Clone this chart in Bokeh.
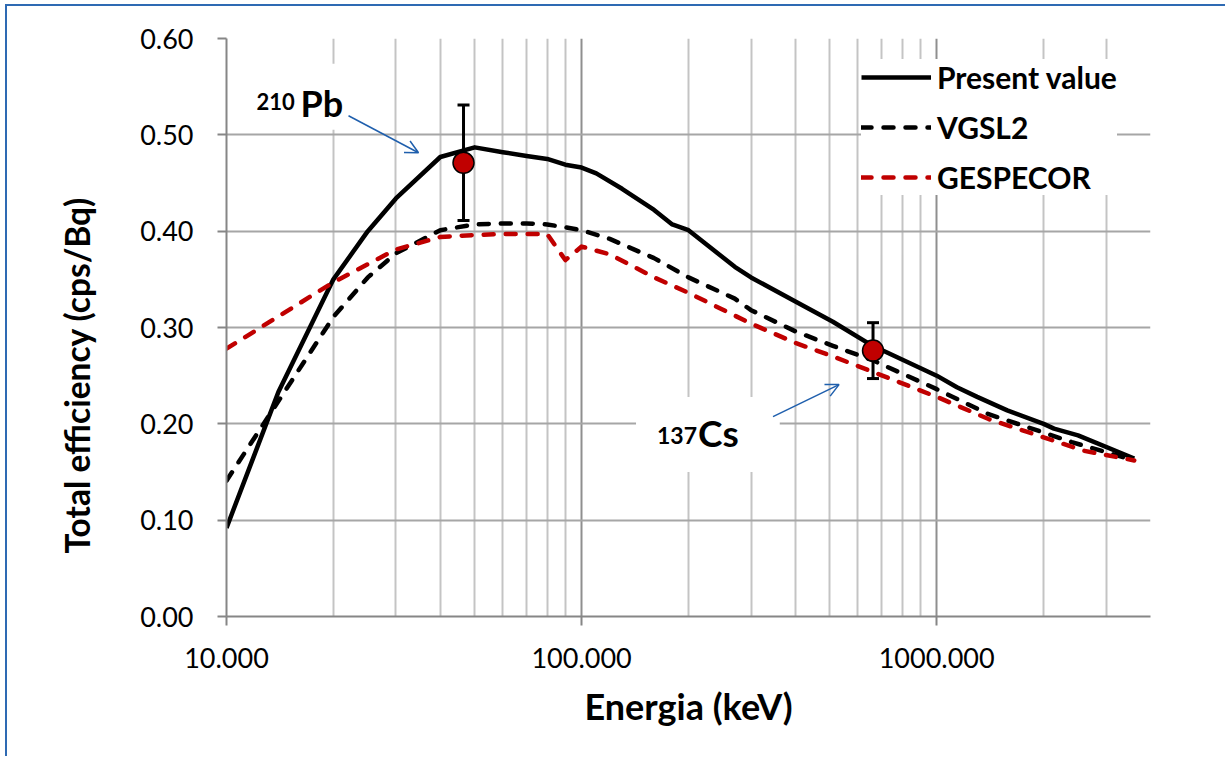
import math

from bokeh.plotting import figure
from bokeh.models import (FixedTicker, PrintfTickFormatter, Legend, Label, Arrow,
                          OpenHead, Title)
from bokeh.embed import file_html
from bokeh.resources import INLINE

# ---- data -----------------------------------------------------------------
# Present value (solid black)
pv_energy = [10, 14, 20, 25, 30, 40, 50, 60, 70, 80, 90, 100, 110, 130, 160, 180,
             200, 270, 300, 400, 510, 660, 1000, 1140, 1300, 1580, 2000, 2140,
             2500, 3600]
pv_eff = [0.092, 0.233, 0.350, 0.400, 0.434, 0.477, 0.487, 0.482, 0.478, 0.475,
          0.469, 0.466, 0.460, 0.444, 0.422, 0.407, 0.401, 0.363, 0.352, 0.327,
          0.306, 0.281, 0.250, 0.238, 0.228, 0.214, 0.200, 0.195, 0.188, 0.164]

# VGSL2 (black dashed)
vg_energy = [10, 20, 25, 30, 40, 50, 60, 70, 80, 90, 100, 120, 160, 200, 270, 300,
             400, 510, 660, 1000, 1400, 2000, 2400, 3600]
vg_eff = [0.141, 0.311, 0.352, 0.377, 0.401, 0.407, 0.408, 0.408, 0.407, 0.404,
          0.401, 0.392, 0.372, 0.352, 0.330, 0.318, 0.296, 0.281, 0.266, 0.236,
          0.210, 0.191, 0.181, 0.162]

# GESPECOR (red dashed)
ge_energy = [10, 20, 30, 40, 50, 60, 70, 80, 90, 100, 120, 160, 200, 300, 400, 510,
             660, 1000, 1400, 2000, 2600, 3600]
ge_eff = [0.278, 0.347, 0.381, 0.394, 0.396, 0.397, 0.397, 0.397, 0.370, 0.384,
          0.376, 0.352, 0.336, 0.304, 0.284, 0.270, 0.254, 0.228, 0.205, 0.186,
          0.172, 0.162]

# measured points: 210Pb and 137Cs
pt_energy = [46.5, 661.7]
pt_eff = [0.471, 0.276]
pt_err = [0.060, 0.029]

x_ticks = [10, 100, 1000]
x_minor = [m * d for d in (10, 100, 1000) for m in range(2, 10) if m * d <= 4000]
y_ticks = [0.0, 0.1, 0.2, 0.3, 0.4, 0.5, 0.6]

# ---- layout ---------------------------------------------------------------
# the canvas sits 7 px from the left and 6 px from the top of the page,
# behind a thin blue border line
W, H = 1220, 752
B_LEFT, B_RIGHT, B_TOP, B_BOTTOM = 219, 77, 32, 142
X_MIN, X_MAX = 10, 4000
Y_MIN, Y_MAX = 0.0, 0.6

FONT = "Lato"
BLUE = "#1F5FAD"
RED = "#C00000"
AXIS_GREY = "#868686"
BORDER = "2px solid #2E6AB3"

p = figure(width=W, height=H, x_axis_type="log", x_range=(X_MIN, X_MAX),
           y_range=(Y_MIN, Y_MAX), title=None, output_backend="svg",
           toolbar_location=None, min_border_left=B_LEFT, min_border_right=B_RIGHT,
           min_border_top=B_TOP, min_border_bottom=B_BOTTOM,
           background_fill_color="white", border_fill_color="white")
p.outline_line_color = None
p.styles = {"margin-left": "5px", "margin-top": "4px",
            "border-left": BORDER, "border-top": BORDER}

xt = FixedTicker(ticks=x_ticks, minor_ticks=x_minor)
p.xaxis.ticker = xt
p.xgrid.ticker = xt
p.xaxis.formatter = PrintfTickFormatter(format="%.3f")
yt = FixedTicker(ticks=y_ticks)
p.yaxis.ticker = yt
p.ygrid.ticker = yt
p.yaxis.formatter = PrintfTickFormatter(format="%.2f")

for ax in (p.xaxis, p.yaxis):
    ax.axis_line_color = AXIS_GREY
    ax.axis_line_width = 2
    ax.major_tick_line_color = AXIS_GREY
    ax.major_tick_line_width = 2
    ax.major_tick_out = 9
    ax.major_tick_in = 0
    ax.minor_tick_out = 0
    ax.minor_tick_in = 0
    ax.major_label_text_font = FONT
    ax.major_label_text_font_size = "27px"
    ax.major_label_text_color = "black"
p.xaxis.major_label_standoff = 22
p.yaxis.major_label_standoff = 24

p.xaxis.axis_label = "Energia (keV)"
p.xaxis.axis_label_text_font = FONT
p.xaxis.axis_label_text_font_style = "bold"
p.xaxis.axis_label_text_font_size = "36px"
p.xaxis.axis_label_text_color = "black"
p.xaxis.axis_label_standoff = 13

# y axis title, starting a little above the bottom of the frame
ytitle = Title(text="Total efficiency (cps/Bq)", align="left", offset=63,
               text_font=FONT, text_font_style="bold", text_font_size="33.5px",
               text_color="black", standoff=81)
p.add_layout(ytitle, "left")

p.ygrid.grid_line_color = "#a6a6a6"
p.ygrid.grid_line_width = 2
p.xgrid.grid_line_color = "#8f8f8f"
p.xgrid.grid_line_width = 2
p.xgrid.minor_grid_line_color = "#c4c4c4"
p.xgrid.minor_grid_line_width = 2

# ---- curves ---------------------------------------------------------------
r_pv = p.line(pv_energy, pv_eff, line_color="black", line_width=4.5,
              line_join="round")
r_vg = p.line(vg_energy, vg_eff, line_color="black", line_width=4.5,
              line_dash="10 12", line_cap="round", line_join="round")
r_ge = p.line(ge_energy, ge_eff, line_color=RED, line_width=4.5,
              line_dash="10 12", line_cap="round", line_join="round")

# error bars and measured points
pt_lo = [v - e for v, e in zip(pt_eff, pt_err)]
pt_hi = [v + e for v, e in zip(pt_eff, pt_err)]
p.segment(pt_energy, pt_lo, pt_energy, pt_hi, line_color="black", line_width=3)
p.scatter(pt_energy, pt_lo, marker="dash", size=12, line_color="black", line_width=3)
p.scatter(pt_energy, pt_hi, marker="dash", size=12, line_color="black", line_width=3)
p.scatter(pt_energy, pt_eff, size=21, fill_color=RED, line_color="black",
          line_width=1.5)

# ---- legend ---------------------------------------------------------------
legend = Legend(items=[("Present value", [r_pv]), ("VGSL2", [r_vg]),
                       ("GESPECOR", [r_ge])],
                location=(635, 421), background_fill_color="white",
                background_fill_alpha=1.0, border_line_color=None,
                label_text_font=FONT, label_text_font_style="bold",
                label_text_font_size="30px", label_text_color="black",
                glyph_width=70, glyph_height=36, label_height=36, spacing=14,
                padding=11, label_standoff=6, margin=0)
p.add_layout(legend)

# ---- nuclide labels and arrows ---------------------------------------------
FRAME_W = W - B_LEFT - B_RIGHT
FRAME_H = H - B_TOP - B_BOTTOM
DEC_PX = FRAME_W / (math.log10(X_MAX) - math.log10(X_MIN))
UNIT_PX = FRAME_H / (Y_MAX - Y_MIN)


def shift(e, v, dx, dy):
    """Move a data position by dx, dy screen pixels (dy positive = down)."""
    return e * 10 ** (dx / DEC_PX), v - dy / UNIT_PX


pb_e, cs_e = pt_energy
pb_v, cs_v = pt_eff

lab_style = dict(text_font=FONT, text_font_style="bold", text_color="black",
                 text_baseline="alphabetic", text_align="left")


def boxed_label(e, v, dx, dy, text, size, pad):
    """Label whose text starts at (dx, dy) px from a point, on a white box."""
    p.add_layout(Label(x=e, y=v, x_offset=dx - pad["left"], y_offset=dy + pad["top"],
                       text=text, text_font_size=size, background_fill_color="white",
                       padding=pad, **lab_style))


boxed_label(pb_e, pb_v, -163, 49, "Pb", "36px",
            dict(left=63, right=30, top=17, bottom=5))
p.add_layout(Label(x=pb_e, y=pb_v, x_offset=-207, y_offset=61, text="210",
                   text_font_size="22px", **lab_style))

boxed_label(cs_e, cs_v, -175, -97, "Cs", "37px",
            dict(left=62, right=41, top=13, bottom=17))
p.add_layout(Label(x=cs_e, y=cs_v, x_offset=-216, y_offset=-85, text="137",
                   text_font_size="23px", **lab_style))

for (dx0, dy0, dx1, dy1), (e, v) in (((-115, -47, -45, -10), (pb_e, pb_v)),
                                      ((-100, 66, -34, 34), (cs_e, cs_v))):
    xs, ys = shift(e, v, dx0, dy0)
    xe, ye = shift(e, v, dx1, dy1)
    p.add_layout(Arrow(x_start=xs, y_start=ys, x_end=xe, y_end=ye,
                       line_color=BLUE, line_width=1.5,
                       end=OpenHead(size=13, line_color=BLUE, line_width=1.5)))

open("out.html", "w").write(file_html(p, INLINE))
